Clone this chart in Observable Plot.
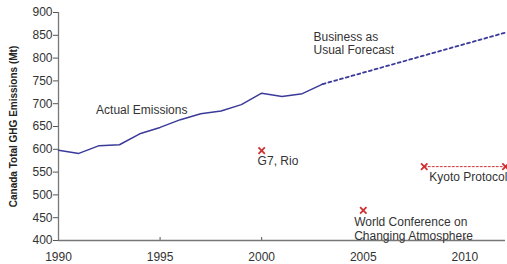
<!DOCTYPE html>
<html><head><meta charset="utf-8">
<script src="https://cdn.jsdelivr.net/npm/d3@7"></script>
<script src="https://cdn.jsdelivr.net/npm/@observablehq/plot@0.6"></script>
<style>body{margin:0;background:#fff}</style>
</head><body><div id="chart"></div>
<script>
const years = [1990,1991,1992,1993,1994,1995,1996,1997,1998,1999,2000,2001,2002,2003];
const actual = [598,591,608,610,634,648,665,678,684,698,723,716,722,743];
const forecastYears = [2003, 2012];
const forecast = [743, 856];
const eventYears = [2000, 2005, 2008, 2012];
const eventValues = [597, 466, 562, 562];
const kyotoYears = [2008, 2012];
const kyotoValues = [562, 562];
const xTicks = [1990, 1995, 2000, 2005, 2010];
const yTicks = [400,450,500,550,600,650,700,750,800,850,900];
const labels = [
  {x: 1991.85, y: 686, t: "Actual Emissions"},
  {x: 2002.55, y: 845, t: "Business as"},
  {x: 2002.55, y: 817, t: "Usual Forecast"},
  {x: 1999.8, y: 575, t: "G7, Rio"},
  {x: 2004.55, y: 440, t: "World Conference on"},
  {x: 2004.55, y: 409, t: "Changing Atmosphere"},
  {x: 2008.25, y: 540, t: "Kyoto Protocol"}
];
const actualData = years.map((y,i)=>({x:y, v:actual[i]}));
const fcData = forecastYears.map((y,i)=>({x:y, v:forecast[i]}));
const evData = eventYears.map((y,i)=>({x:y, v:eventValues[i]}));
const kyData = kyotoYears.map((y,i)=>({x:y, v:kyotoValues[i]}));
const font = "Liberation Sans, Arial, sans-serif";
const chart = Plot.plot({
  width: 507, height: 264,
  marginLeft: 58, marginRight: 2, marginTop: 12, marginBottom: 24,
  style: {fontFamily: font, fontSize: "12px", color: "#333", background: "#fff"},
  x: {domain: [1990, 2012], ticks: xTicks, tickFormat: d => String(d), label: null},
  y: {domain: [400, 900], ticks: yTicks, label: null},
  marks: [
    Plot.axisX({ticks: xTicks, tickFormat: d => String(d), tickSize: -3, tickPadding: 15, stroke: "#555", fontSize: 12, fill: "#333"}),
    Plot.axisY({ticks: yTicks, tickSize: 5, tickPadding: 1, stroke: "#555", fontSize: 12, fill: "#333"}),
    Plot.ruleY([400], {stroke: "#777", strokeWidth: 1.3}),
    Plot.ruleX([1990], {stroke: "#777", strokeWidth: 1.3}),
    Plot.line(actualData, {x: "x", y: "v", stroke: "#3a3a9a", strokeWidth: 1.5}),
    Plot.line(fcData, {x: "x", y: "v", stroke: "#3a3a9a", strokeWidth: 1.8, strokeDasharray: "3,3"}),
    Plot.line(kyData, {x: "x", y: "v", stroke: "#d03030", strokeWidth: 1, strokeDasharray: "2,2"}),
    Plot.dot(evData, {x: "x", y: "v", symbol: "times", r: 3, stroke: "#d03030", strokeWidth: 1.8}),
    Plot.text(labels, {x: "x", y: "y", text: "t", textAnchor: "start", fill: "#333", fontSize: 12, fontFamily: font}),
    Plot.text(["Canada Total GHG Emissions (Mt)"], {frameAnchor: "left", textAnchor: "middle", dx: -45, rotate: -90, fontWeight: "bold", fontSize: 10, fill: "#222", fontFamily: font})
  ]
});
document.getElementById("chart").appendChild(chart);
</script></body></html>
